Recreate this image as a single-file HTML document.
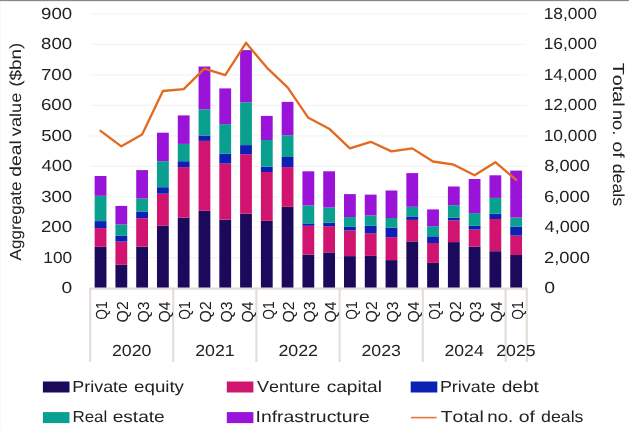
<!DOCTYPE html>
<html><head><meta charset="utf-8"><title>Chart</title>
<style>
html,body{margin:0;padding:0;background:#fff;}
body{width:629px;height:428px;overflow:hidden;position:relative;font-family:"Liberation Sans",sans-serif;}
</style></head><body>
<svg width="629" height="428" viewBox="0 0 629 428" style="position:absolute;left:0;top:0;display:block" font-family="Liberation Sans, sans-serif" font-size="16" fill="#222222">
<rect x="0" y="0" width="629" height="428" fill="#ffffff"/>
<line x1="90.2" x2="526.5" y1="13.90" y2="13.90" stroke="#f4f4f4" stroke-width="1.2"/>
<line x1="90.2" x2="526.5" y1="44.38" y2="44.38" stroke="#f4f4f4" stroke-width="1.2"/>
<line x1="90.2" x2="526.5" y1="74.86" y2="74.86" stroke="#f4f4f4" stroke-width="1.2"/>
<line x1="90.2" x2="526.5" y1="105.33" y2="105.33" stroke="#f4f4f4" stroke-width="1.2"/>
<line x1="90.2" x2="526.5" y1="135.81" y2="135.81" stroke="#f4f4f4" stroke-width="1.2"/>
<line x1="90.2" x2="526.5" y1="166.29" y2="166.29" stroke="#f4f4f4" stroke-width="1.2"/>
<line x1="90.2" x2="526.5" y1="196.77" y2="196.77" stroke="#f4f4f4" stroke-width="1.2"/>
<line x1="90.2" x2="526.5" y1="227.24" y2="227.24" stroke="#f4f4f4" stroke-width="1.2"/>
<line x1="90.2" x2="526.5" y1="257.72" y2="257.72" stroke="#f4f4f4" stroke-width="1.2"/>
<rect x="94.65" y="246.80" width="11.8" height="41.20" fill="#1b0a5c"/>
<rect x="94.65" y="228.10" width="11.8" height="18.70" fill="#d1146f"/>
<rect x="94.65" y="221.10" width="11.8" height="7.00" fill="#0c20b4"/>
<rect x="94.65" y="195.80" width="11.8" height="25.30" fill="#0aa08f"/>
<rect x="94.65" y="176.00" width="11.8" height="19.80" fill="#9a13d8"/>
<rect x="115.43" y="264.80" width="11.8" height="23.20" fill="#1b0a5c"/>
<rect x="115.43" y="241.60" width="11.8" height="23.20" fill="#d1146f"/>
<rect x="115.43" y="235.80" width="11.8" height="5.80" fill="#0c20b4"/>
<rect x="115.43" y="224.40" width="11.8" height="11.40" fill="#0aa08f"/>
<rect x="115.43" y="205.90" width="11.8" height="18.50" fill="#9a13d8"/>
<rect x="136.21" y="246.60" width="11.8" height="41.40" fill="#1b0a5c"/>
<rect x="136.21" y="218.30" width="11.8" height="28.30" fill="#d1146f"/>
<rect x="136.21" y="211.50" width="11.8" height="6.80" fill="#0c20b4"/>
<rect x="136.21" y="198.60" width="11.8" height="12.90" fill="#0aa08f"/>
<rect x="136.21" y="170.10" width="11.8" height="28.50" fill="#9a13d8"/>
<rect x="156.99" y="225.80" width="11.8" height="62.20" fill="#1b0a5c"/>
<rect x="156.99" y="193.70" width="11.8" height="32.10" fill="#d1146f"/>
<rect x="156.99" y="187.20" width="11.8" height="6.50" fill="#0c20b4"/>
<rect x="156.99" y="161.20" width="11.8" height="26.00" fill="#0aa08f"/>
<rect x="156.99" y="132.70" width="11.8" height="28.50" fill="#9a13d8"/>
<rect x="177.77" y="217.60" width="11.8" height="70.40" fill="#1b0a5c"/>
<rect x="177.77" y="167.10" width="11.8" height="50.50" fill="#d1146f"/>
<rect x="177.77" y="161.20" width="11.8" height="5.90" fill="#0c20b4"/>
<rect x="177.77" y="143.90" width="11.8" height="17.30" fill="#0aa08f"/>
<rect x="177.77" y="115.40" width="11.8" height="28.50" fill="#9a13d8"/>
<rect x="198.55" y="210.80" width="11.8" height="77.20" fill="#1b0a5c"/>
<rect x="198.55" y="140.90" width="11.8" height="69.90" fill="#d1146f"/>
<rect x="198.55" y="135.50" width="11.8" height="5.40" fill="#0c20b4"/>
<rect x="198.55" y="109.30" width="11.8" height="26.20" fill="#0aa08f"/>
<rect x="198.55" y="66.50" width="11.8" height="42.80" fill="#9a13d8"/>
<rect x="219.33" y="219.70" width="11.8" height="68.30" fill="#1b0a5c"/>
<rect x="219.33" y="163.60" width="11.8" height="56.10" fill="#d1146f"/>
<rect x="219.33" y="153.80" width="11.8" height="9.80" fill="#0c20b4"/>
<rect x="219.33" y="124.10" width="11.8" height="29.70" fill="#0aa08f"/>
<rect x="219.33" y="88.40" width="11.8" height="35.70" fill="#9a13d8"/>
<rect x="240.11" y="213.60" width="11.8" height="74.40" fill="#1b0a5c"/>
<rect x="240.11" y="154.20" width="11.8" height="59.40" fill="#d1146f"/>
<rect x="240.11" y="145.10" width="11.8" height="9.10" fill="#0c20b4"/>
<rect x="240.11" y="102.30" width="11.8" height="42.80" fill="#0aa08f"/>
<rect x="240.11" y="50.10" width="11.8" height="52.20" fill="#9a13d8"/>
<rect x="260.89" y="220.80" width="11.8" height="67.20" fill="#1b0a5c"/>
<rect x="260.89" y="172.00" width="11.8" height="48.80" fill="#d1146f"/>
<rect x="260.89" y="166.60" width="11.8" height="5.40" fill="#0c20b4"/>
<rect x="260.89" y="140.00" width="11.8" height="26.60" fill="#0aa08f"/>
<rect x="260.89" y="115.90" width="11.8" height="24.10" fill="#9a13d8"/>
<rect x="281.67" y="206.80" width="11.8" height="81.20" fill="#1b0a5c"/>
<rect x="281.67" y="167.10" width="11.8" height="39.70" fill="#d1146f"/>
<rect x="281.67" y="157.00" width="11.8" height="10.10" fill="#0c20b4"/>
<rect x="281.67" y="135.30" width="11.8" height="21.70" fill="#0aa08f"/>
<rect x="281.67" y="101.90" width="11.8" height="33.40" fill="#9a13d8"/>
<rect x="302.45" y="254.70" width="11.8" height="33.30" fill="#1b0a5c"/>
<rect x="302.45" y="225.80" width="11.8" height="28.90" fill="#d1146f"/>
<rect x="302.45" y="223.40" width="11.8" height="2.40" fill="#0c20b4"/>
<rect x="302.45" y="205.40" width="11.8" height="18.00" fill="#0aa08f"/>
<rect x="302.45" y="171.30" width="11.8" height="34.10" fill="#9a13d8"/>
<rect x="323.23" y="252.40" width="11.8" height="35.60" fill="#1b0a5c"/>
<rect x="323.23" y="226.20" width="11.8" height="26.20" fill="#d1146f"/>
<rect x="323.23" y="222.70" width="11.8" height="3.50" fill="#0c20b4"/>
<rect x="323.23" y="207.50" width="11.8" height="15.20" fill="#0aa08f"/>
<rect x="323.23" y="171.30" width="11.8" height="36.20" fill="#9a13d8"/>
<rect x="344.01" y="256.10" width="11.8" height="31.90" fill="#1b0a5c"/>
<rect x="344.01" y="230.40" width="11.8" height="25.70" fill="#d1146f"/>
<rect x="344.01" y="226.90" width="11.8" height="3.50" fill="#0c20b4"/>
<rect x="344.01" y="217.10" width="11.8" height="9.80" fill="#0aa08f"/>
<rect x="344.01" y="194.10" width="11.8" height="23.00" fill="#9a13d8"/>
<rect x="364.79" y="255.90" width="11.8" height="32.10" fill="#1b0a5c"/>
<rect x="364.79" y="233.20" width="11.8" height="22.70" fill="#d1146f"/>
<rect x="364.79" y="225.80" width="11.8" height="7.40" fill="#0c20b4"/>
<rect x="364.79" y="215.50" width="11.8" height="10.30" fill="#0aa08f"/>
<rect x="364.79" y="194.60" width="11.8" height="20.90" fill="#9a13d8"/>
<rect x="385.57" y="260.10" width="11.8" height="27.90" fill="#1b0a5c"/>
<rect x="385.57" y="237.20" width="11.8" height="22.90" fill="#d1146f"/>
<rect x="385.57" y="227.60" width="11.8" height="9.60" fill="#0c20b4"/>
<rect x="385.57" y="218.00" width="11.8" height="9.60" fill="#0aa08f"/>
<rect x="385.57" y="190.50" width="11.8" height="27.50" fill="#9a13d8"/>
<rect x="406.35" y="241.40" width="11.8" height="46.60" fill="#1b0a5c"/>
<rect x="406.35" y="219.90" width="11.8" height="21.50" fill="#d1146f"/>
<rect x="406.35" y="216.40" width="11.8" height="3.50" fill="#0c20b4"/>
<rect x="406.35" y="206.80" width="11.8" height="9.60" fill="#0aa08f"/>
<rect x="406.35" y="173.10" width="11.8" height="33.70" fill="#9a13d8"/>
<rect x="427.13" y="262.90" width="11.8" height="25.10" fill="#1b0a5c"/>
<rect x="427.13" y="243.00" width="11.8" height="19.90" fill="#d1146f"/>
<rect x="427.13" y="236.30" width="11.8" height="6.70" fill="#0c20b4"/>
<rect x="427.13" y="226.20" width="11.8" height="10.10" fill="#0aa08f"/>
<rect x="427.13" y="209.40" width="11.8" height="16.80" fill="#9a13d8"/>
<rect x="447.91" y="242.10" width="11.8" height="45.90" fill="#1b0a5c"/>
<rect x="447.91" y="220.40" width="11.8" height="21.70" fill="#d1146f"/>
<rect x="447.91" y="217.80" width="11.8" height="2.60" fill="#0c20b4"/>
<rect x="447.91" y="205.20" width="11.8" height="12.60" fill="#0aa08f"/>
<rect x="447.91" y="186.50" width="11.8" height="18.70" fill="#9a13d8"/>
<rect x="468.69" y="246.60" width="11.8" height="41.40" fill="#1b0a5c"/>
<rect x="468.69" y="229.50" width="11.8" height="17.10" fill="#d1146f"/>
<rect x="468.69" y="225.80" width="11.8" height="3.70" fill="#0c20b4"/>
<rect x="468.69" y="213.10" width="11.8" height="12.70" fill="#0aa08f"/>
<rect x="468.69" y="179.00" width="11.8" height="34.10" fill="#9a13d8"/>
<rect x="489.47" y="251.20" width="11.8" height="36.80" fill="#1b0a5c"/>
<rect x="489.47" y="219.00" width="11.8" height="32.20" fill="#d1146f"/>
<rect x="489.47" y="213.80" width="11.8" height="5.20" fill="#0c20b4"/>
<rect x="489.47" y="197.90" width="11.8" height="15.90" fill="#0aa08f"/>
<rect x="489.47" y="175.30" width="11.8" height="22.60" fill="#9a13d8"/>
<rect x="510.25" y="255.00" width="11.8" height="33.00" fill="#1b0a5c"/>
<rect x="510.25" y="235.60" width="11.8" height="19.40" fill="#d1146f"/>
<rect x="510.25" y="226.70" width="11.8" height="8.90" fill="#0c20b4"/>
<rect x="510.25" y="217.60" width="11.8" height="9.10" fill="#0aa08f"/>
<rect x="510.25" y="170.60" width="11.8" height="47.00" fill="#9a13d8"/>
<line x1="89.5" x2="527.5" y1="288.6" y2="288.6" stroke="#e4dcd6" stroke-width="2.1"/>
<line x1="90.2" x2="90.2" y1="288" y2="362" stroke="#e4dcd6" stroke-width="2.1"/>
<line x1="173.2" x2="173.2" y1="288" y2="362" stroke="#e4dcd6" stroke-width="2.1"/>
<line x1="256.4" x2="256.4" y1="288" y2="362" stroke="#e4dcd6" stroke-width="2.1"/>
<line x1="339.6" x2="339.6" y1="288" y2="362" stroke="#e4dcd6" stroke-width="2.1"/>
<line x1="422.8" x2="422.8" y1="288" y2="362" stroke="#e4dcd6" stroke-width="2.1"/>
<line x1="505.6" x2="505.6" y1="288" y2="362" stroke="#e4dcd6" stroke-width="2.1"/>
<line x1="526.8" x2="526.8" y1="288" y2="362" stroke="#e4dcd6" stroke-width="2.1"/>
<polyline points="100.55,130.80 121.33,146.30 142.11,134.40 162.89,91.00 183.67,89.10 204.45,68.60 225.23,75.10 246.01,42.80 266.79,67.60 287.57,87.30 308.35,117.80 329.13,128.70 349.91,148.40 370.69,141.80 391.47,151.40 412.25,148.40 433.03,161.50 453.81,164.70 474.59,175.30 495.37,162.20 516.15,179.90" fill="none" stroke="#e2691f" stroke-width="2.3" stroke-linejoin="round" stroke-linecap="round"/>
<g opacity="0.999" style="text-rendering:geometricPrecision;font-kerning:none">
<text x="61.45" y="293.30" textLength="10.70" lengthAdjust="spacingAndGlyphs">0</text>
<text x="43.39" y="262.79" textLength="28.68" lengthAdjust="spacingAndGlyphs">100</text>
<text x="40.96" y="232.28" textLength="31.17" lengthAdjust="spacingAndGlyphs">200</text>
<text x="41.19" y="201.77" textLength="30.93" lengthAdjust="spacingAndGlyphs">300</text>
<text x="41.48" y="171.26" textLength="30.64" lengthAdjust="spacingAndGlyphs">400</text>
<text x="41.16" y="140.75" textLength="30.97" lengthAdjust="spacingAndGlyphs">500</text>
<text x="40.95" y="110.24" textLength="31.18" lengthAdjust="spacingAndGlyphs">600</text>
<text x="40.94" y="79.73" textLength="31.19" lengthAdjust="spacingAndGlyphs">700</text>
<text x="41.09" y="49.22" textLength="31.03" lengthAdjust="spacingAndGlyphs">800</text>
<text x="41.03" y="18.71" textLength="31.10" lengthAdjust="spacingAndGlyphs">900</text>
<text x="544.24" y="293.30" textLength="10.82" lengthAdjust="spacingAndGlyphs">0</text>
<text x="544.08" y="262.79" textLength="45.84" lengthAdjust="spacingAndGlyphs">2,000</text>
<text x="544.58" y="232.28" textLength="45.32" lengthAdjust="spacingAndGlyphs">4,000</text>
<text x="544.07" y="201.77" textLength="45.85" lengthAdjust="spacingAndGlyphs">6,000</text>
<text x="544.21" y="171.26" textLength="45.71" lengthAdjust="spacingAndGlyphs">8,000</text>
<text x="543.67" y="140.75" textLength="53.20" lengthAdjust="spacingAndGlyphs">10,000</text>
<text x="543.67" y="110.24" textLength="53.20" lengthAdjust="spacingAndGlyphs">12,000</text>
<text x="543.67" y="79.73" textLength="53.20" lengthAdjust="spacingAndGlyphs">14,000</text>
<text x="543.67" y="49.22" textLength="53.20" lengthAdjust="spacingAndGlyphs">16,000</text>
<text x="543.67" y="18.71" textLength="53.20" lengthAdjust="spacingAndGlyphs">18,000</text>
<text x="21.00" y="260.53" textLength="78.99" lengthAdjust="spacingAndGlyphs" transform="rotate(-90 21.00 260.53)">Aggregate</text>
<text x="21.00" y="176.71" textLength="36.50" lengthAdjust="spacingAndGlyphs" transform="rotate(-90 21.00 176.71)">deal</text>
<text x="21.00" y="136.16" textLength="43.47" lengthAdjust="spacingAndGlyphs" transform="rotate(-90 21.00 136.16)">value</text>
<text x="21.00" y="86.77" textLength="44.04" lengthAdjust="spacingAndGlyphs" transform="rotate(-90 21.00 86.77)">($bn)</text>
<text x="612.80" y="62.76" textLength="43.97" lengthAdjust="spacingAndGlyphs" transform="rotate(90 612.80 62.76)">Total</text>
<text x="612.80" y="109.89" textLength="25.38" lengthAdjust="spacingAndGlyphs" transform="rotate(90 612.80 109.89)">no.</text>
<text x="612.80" y="141.38" textLength="16.19" lengthAdjust="spacingAndGlyphs" transform="rotate(90 612.80 141.38)">of</text>
<text x="612.80" y="163.65" textLength="42.59" lengthAdjust="spacingAndGlyphs" transform="rotate(90 612.80 163.65)">deals</text>
<text x="107.35" y="319.65" textLength="18.21" lengthAdjust="spacingAndGlyphs" transform="rotate(-90 107.35 319.65)">Q1</text>
<text x="128.13" y="322.45" textLength="21.15" lengthAdjust="spacingAndGlyphs" transform="rotate(-90 128.13 322.45)">Q2</text>
<text x="148.91" y="322.45" textLength="21.04" lengthAdjust="spacingAndGlyphs" transform="rotate(-90 148.91 322.45)">Q3</text>
<text x="169.69" y="322.44" textLength="20.80" lengthAdjust="spacingAndGlyphs" transform="rotate(-90 169.69 322.44)">Q4</text>
<text x="190.47" y="319.65" textLength="18.21" lengthAdjust="spacingAndGlyphs" transform="rotate(-90 190.47 319.65)">Q1</text>
<text x="211.25" y="322.45" textLength="21.15" lengthAdjust="spacingAndGlyphs" transform="rotate(-90 211.25 322.45)">Q2</text>
<text x="232.03" y="322.45" textLength="21.04" lengthAdjust="spacingAndGlyphs" transform="rotate(-90 232.03 322.45)">Q3</text>
<text x="252.81" y="322.44" textLength="20.80" lengthAdjust="spacingAndGlyphs" transform="rotate(-90 252.81 322.44)">Q4</text>
<text x="273.59" y="319.65" textLength="18.21" lengthAdjust="spacingAndGlyphs" transform="rotate(-90 273.59 319.65)">Q1</text>
<text x="294.37" y="322.45" textLength="21.15" lengthAdjust="spacingAndGlyphs" transform="rotate(-90 294.37 322.45)">Q2</text>
<text x="315.15" y="322.45" textLength="21.04" lengthAdjust="spacingAndGlyphs" transform="rotate(-90 315.15 322.45)">Q3</text>
<text x="335.93" y="322.44" textLength="20.80" lengthAdjust="spacingAndGlyphs" transform="rotate(-90 335.93 322.44)">Q4</text>
<text x="356.71" y="319.65" textLength="18.21" lengthAdjust="spacingAndGlyphs" transform="rotate(-90 356.71 319.65)">Q1</text>
<text x="377.49" y="322.45" textLength="21.15" lengthAdjust="spacingAndGlyphs" transform="rotate(-90 377.49 322.45)">Q2</text>
<text x="398.27" y="322.45" textLength="21.04" lengthAdjust="spacingAndGlyphs" transform="rotate(-90 398.27 322.45)">Q3</text>
<text x="419.05" y="322.44" textLength="20.80" lengthAdjust="spacingAndGlyphs" transform="rotate(-90 419.05 322.44)">Q4</text>
<text x="439.83" y="319.65" textLength="18.21" lengthAdjust="spacingAndGlyphs" transform="rotate(-90 439.83 319.65)">Q1</text>
<text x="460.61" y="322.45" textLength="21.15" lengthAdjust="spacingAndGlyphs" transform="rotate(-90 460.61 322.45)">Q2</text>
<text x="481.39" y="322.45" textLength="21.04" lengthAdjust="spacingAndGlyphs" transform="rotate(-90 481.39 322.45)">Q3</text>
<text x="502.17" y="322.44" textLength="20.80" lengthAdjust="spacingAndGlyphs" transform="rotate(-90 502.17 322.44)">Q4</text>
<text x="522.95" y="319.65" textLength="18.21" lengthAdjust="spacingAndGlyphs" transform="rotate(-90 522.95 319.65)">Q1</text>
<text x="112.01" y="355.50" textLength="39.38" lengthAdjust="spacingAndGlyphs">2020</text>
<text x="195.21" y="355.50" textLength="39.56" lengthAdjust="spacingAndGlyphs">2021</text>
<text x="278.40" y="355.50" textLength="39.59" lengthAdjust="spacingAndGlyphs">2022</text>
<text x="361.51" y="355.50" textLength="39.47" lengthAdjust="spacingAndGlyphs">2023</text>
<text x="444.51" y="355.50" textLength="39.20" lengthAdjust="spacingAndGlyphs">2024</text>
<text x="496.21" y="355.50" textLength="39.44" lengthAdjust="spacingAndGlyphs">2025</text>
<rect x="42.9" y="381.5" width="26.6" height="11.0" fill="#1b0a5c"/>
<text x="72.33" y="391.70" textLength="55.66" lengthAdjust="spacingAndGlyphs">Private</text>
<text x="134.11" y="391.70" textLength="49.83" lengthAdjust="spacingAndGlyphs">equity</text>
<rect x="226.8" y="381.5" width="26.6" height="11.0" fill="#d1146f"/>
<text x="257.02" y="391.70" textLength="63.18" lengthAdjust="spacingAndGlyphs">Venture</text>
<text x="326.69" y="391.70" textLength="55.19" lengthAdjust="spacingAndGlyphs">capital</text>
<rect x="410.7" y="381.5" width="26.6" height="11.0" fill="#0c20b4"/>
<text x="439.93" y="391.70" textLength="55.77" lengthAdjust="spacingAndGlyphs">Private</text>
<text x="501.70" y="391.70" textLength="37.14" lengthAdjust="spacingAndGlyphs">debt</text>
<rect x="42.9" y="412.09999999999997" width="26.6" height="11.0" fill="#0aa08f"/>
<text x="72.41" y="421.70" textLength="34.93" lengthAdjust="spacingAndGlyphs">Real</text>
<text x="112.69" y="421.70" textLength="52.06" lengthAdjust="spacingAndGlyphs">estate</text>
<rect x="226.8" y="412.09999999999997" width="26.6" height="11.0" fill="#9a13d8"/>
<text x="255.51" y="421.70" textLength="114.25" lengthAdjust="spacingAndGlyphs">Infrastructure</text>
<line x1="410.9" x2="436.6" y1="417.6" y2="417.6" stroke="#e5773b" stroke-width="1.6"/>
<text x="440.76" y="421.70" textLength="43.13" lengthAdjust="spacingAndGlyphs">Total</text>
<text x="487.36" y="421.70" textLength="25.94" lengthAdjust="spacingAndGlyphs">no.</text>
<text x="518.78" y="421.70" textLength="16.19" lengthAdjust="spacingAndGlyphs">of</text>
<text x="541.06" y="421.70" textLength="42.39" lengthAdjust="spacingAndGlyphs">deals</text>
</g>
<rect x="0" y="1" width="1" height="428" fill="#f8f8f9"/>
<rect x="0" y="0" width="629" height="1" fill="#87878f"/>
<rect x="0" y="1" width="629" height="1" fill="#ededef"/>
</svg>
</body></html>
